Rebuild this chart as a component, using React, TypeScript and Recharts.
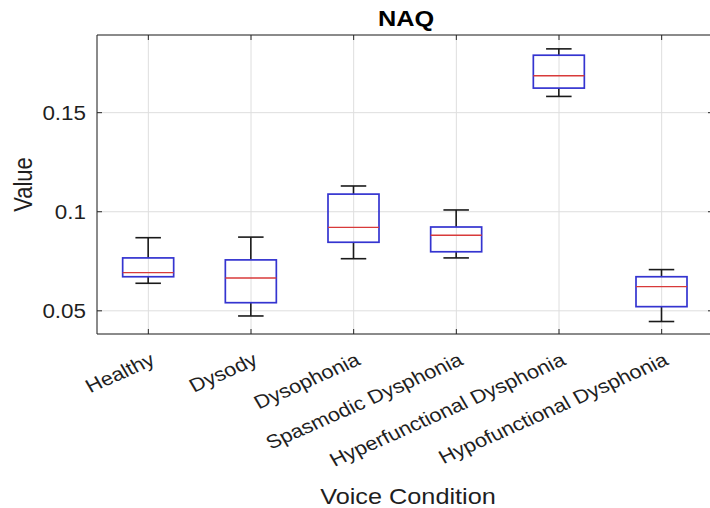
import React from "react";
import { ComposedChart, Bar, XAxis, YAxis, CartesianGrid } from "recharts";

// Voice conditions and their NAQ box-plot statistics
const categories = [
  "Healthy",
  "Dysody",
  "Dysophonia",
  "Spasmodic Dysphonia",
  "Hyperfunctional Dysphonia",
  "Hypofunctional Dysphonia",
];
const whiskerLow = [0.0639, 0.0474, 0.0763, 0.0767, 0.1582, 0.0446];
const quartile1 = [0.0672, 0.0541, 0.0846, 0.0798, 0.1624, 0.0521];
const medians = [0.0693, 0.0666, 0.0921, 0.0881, 0.1686, 0.0622];
const quartile3 = [0.0767, 0.0757, 0.1089, 0.0923, 0.179, 0.0672];
const whiskerHigh = [0.0869, 0.0872, 0.113, 0.1009, 0.1822, 0.0708];
const yTicks = [0.05, 0.1, 0.15];
const yTickLabels = ["0.05", "0.1", "0.15"];

const rows = categories.map((name, i) => ({
  name,
  range: [whiskerLow[i], whiskerHigh[i]],
  lo: whiskerLow[i],
  q1: quartile1[i],
  med: medians[i],
  q3: quartile3[i],
  hi: whiskerHigh[i],
}));

const FONT = "'Liberation Sans', Arial, sans-serif";
const TEXT = "#1f1f1f";
const AXIS = "#262626";
const SX = 1.15; // horizontal text stretch
const TICK_FONT = 19;
const LABEL_FONT = 22;
const TICK_ANGLE = 27;

const BoxShape = (props: any) => {
  const { x, y, width, height, payload } = props;
  if (!payload) return null;
  const top = Math.min(y, y + height);
  const bottom = Math.max(y, y + height);
  const { lo, q1, med, q3, hi } = payload;
  const px = (v: number) => top + ((bottom - top) * (hi - v)) / (hi - lo);
  const cx = x + width / 2;
  const capHalf = width / 4;
  const yQ1 = px(q1);
  const yQ3 = px(q3);
  const yMed = px(med);
  return (
    <g>
      <line x1={cx} x2={cx} y1={top} y2={yQ3} stroke="#1a1a1a" strokeWidth={1.6} />
      <line x1={cx} x2={cx} y1={yQ1} y2={bottom} stroke="#1a1a1a" strokeWidth={1.6} />
      <line x1={cx - capHalf} x2={cx + capHalf} y1={top} y2={top} stroke="#1a1a1a" strokeWidth={1.6} />
      <line x1={cx - capHalf} x2={cx + capHalf} y1={bottom} y2={bottom} stroke="#1a1a1a" strokeWidth={1.6} />
      <rect x={x} y={yQ3} width={width} height={yQ1 - yQ3} fill="none" stroke="#3434d0" strokeWidth={1.7} />
      <line x1={x} x2={x + width} y1={yMed} y2={yMed} stroke="#d83a3a" strokeWidth={1.4} />
    </g>
  );
};

const BottomTick = (props: any) => {
  const { x, y, payload } = props;
  return (
    <g>
      <line x1={x} x2={x} y1={y} y2={y - 5} stroke={AXIS} strokeWidth={1} />
      <text
        transform={`translate(${x + 8},${y + 30}) scale(${SX},1) rotate(-${TICK_ANGLE})`}
        textAnchor="end"
        fontFamily={FONT}
        fontSize={TICK_FONT}
        fill={TEXT}
      >
        {payload.value}
      </text>
    </g>
  );
};

const TopTick = (props: any) => {
  const { x, y } = props;
  return <line x1={x} x2={x} y1={y} y2={y + 5} stroke={AXIS} strokeWidth={1} />;
};

const LeftTick = (props: any) => {
  const { x, y, payload } = props;
  const label = yTickLabels[yTicks.indexOf(payload.value)] ?? String(payload.value);
  return (
    <g>
      <line x1={x} x2={x + 5} y1={y} y2={y} stroke={AXIS} strokeWidth={1} />
      <text
        transform={`translate(${x - 11},${y + 7}) scale(${SX},1)`}
        textAnchor="end"
        fontFamily={FONT}
        fontSize={19.5}
        fill={TEXT}
      >
        {label}
      </text>
    </g>
  );
};

const RightTick = (props: any) => {
  const { x, y } = props;
  return <line x1={x} x2={x - 5} y1={y} y2={y} stroke={AXIS} strokeWidth={1} />;
};

const TitleLabel = (props: any) => {
  const vb = props.viewBox || {};
  const cx = vb.x + vb.width / 2;
  return (
    <text
      transform={`translate(${cx + 1},26) scale(${SX},1)`}
      textAnchor="middle"
      fontFamily={FONT}
      fontWeight="bold"
      fontSize={LABEL_FONT}
      fill="#000"
    >
      NAQ
    </text>
  );
};

const XTitle = (props: any) => {
  const vb = props.viewBox || {};
  const cx = vb.x + vb.width / 2;
  return (
    <text
      transform={`translate(${cx + 3},${vb.y + 170}) scale(${SX},1)`}
      textAnchor="middle"
      fontFamily={FONT}
      fontSize={LABEL_FONT}
      fill={TEXT}
    >
      Voice Condition
    </text>
  );
};

const YTitle = (props: any) => {
  const vb = props.viewBox || {};
  const cy = vb.y + vb.height / 2;
  return (
    <text
      transform={`translate(32,${cy}) scale(${SX},1) rotate(-90)`}
      textAnchor="middle"
      fontFamily={FONT}
      fontSize={LABEL_FONT}
      fill={TEXT}
    >
      Value
    </text>
  );
};

const DOMAIN: [number, number] = [0.0383, 0.1892];

export default function App() {
  return (
    <div
      style={{
        position: "absolute",
        left: 0,
        top: 0,
        width: 710,
        height: 508,
        overflow: "hidden",
        background: "#fff",
      }}
    >
      <ComposedChart
        width={720}
        height={508}
        data={rows}
        margin={{ top: 34, right: 6, bottom: 0, left: 0 }}
        barCategoryGap="25%"
      >
        <CartesianGrid stroke="#dedede" strokeWidth={1} />
        <XAxis
          xAxisId={0}
          dataKey="name"
          orientation="bottom"
          height={174}
          interval={0}
          tickSize={0}
          tickMargin={0}
          tickLine={false}
          axisLine={{ stroke: AXIS, strokeWidth: 1 }}
          tick={<BottomTick />}
          label={<XTitle />}
        />
        <XAxis
          xAxisId="top"
          dataKey="name"
          orientation="top"
          height={1}
          interval={0}
          tickSize={0}
          tickMargin={0}
          tickLine={false}
          axisLine={{ stroke: AXIS, strokeWidth: 1 }}
          tick={<TopTick />}
          label={<TitleLabel />}
        />
        <YAxis
          yAxisId={0}
          orientation="left"
          width={97}
          type="number"
          domain={DOMAIN}
          ticks={yTicks}
          allowDataOverflow
          tickSize={0}
          tickMargin={0}
          tickLine={false}
          axisLine={{ stroke: AXIS, strokeWidth: 1 }}
          tick={<LeftTick />}
          label={<YTitle />}
        />
        <YAxis
          yAxisId="right"
          orientation="right"
          width={1}
          type="number"
          domain={DOMAIN}
          ticks={yTicks}
          allowDataOverflow
          tickSize={0}
          tickMargin={0}
          tickLine={false}
          axisLine={{ stroke: AXIS, strokeWidth: 1 }}
          tick={<RightTick />}
        />
        <Bar
          xAxisId={0}
          yAxisId={0}
          dataKey="range"
          shape={<BoxShape />}
          isAnimationActive={false}
        />
      </ComposedChart>
    </div>
  );
}
